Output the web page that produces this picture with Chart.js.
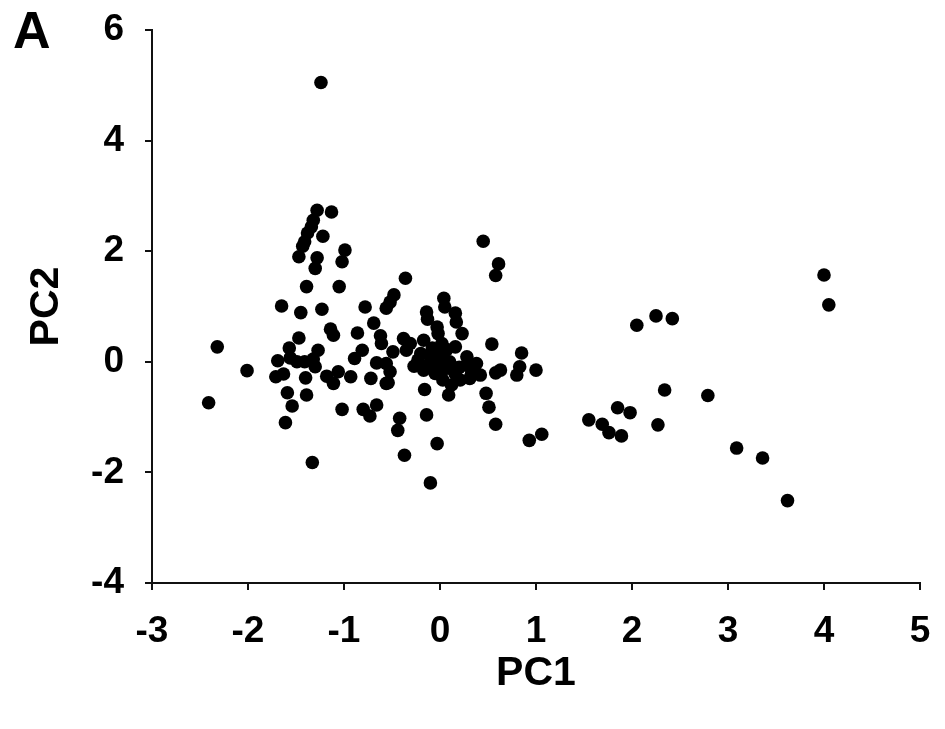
<!DOCTYPE html>
<html lang="en">

<head>
    <meta charset="UTF-8">
    <title>PCA</title>
    <style>
        body { margin: 0; background: #fff; }
        .painel { position: relative; width: 945px; height: 729px; }
        .letra {
            position: absolute; left: 13px; top: 4px;
            font: bold 52px "Liberation Sans", Arial, sans-serif; line-height: 1;
        }
    </style>
</head>

<body>
    <div class="painel">
        <canvas id="myChart" width="945" height="729"></canvas>
        <div class="letra">A</div>
    </div>
</body>

</html>
<script src="https://cdn.jsdelivr.net/npm/chart.js@4/dist/chart.umd.min.js"></script>

<script>

    // valores (PC1, PC2)
    const pc1 = [
        -1.24, -1.28, -1.13, -1.32, -1.34, -1.38, -1.22, -1.41, -1.43, -1.47,
        -1.28, -0.99, -1.02, -1.30, -1.39, -1.05, -1.65, -1.45, -1.23, -0.78,
        -0.56, -0.69, -1.14, -1.11, -0.86, -0.62, -1.47, -2.32, -2.01, -2.41,
        -1.57, -1.69, -1.56, -1.49, -1.41, -1.27, -1.30, -1.71, -1.63, -1.40,
        -1.59, -1.54, -1.39, -1.61, -1.33, -1.18, -1.06, -1.11, -0.93, -0.72,
        -0.89, -0.81, -0.66, -0.56, -0.56, -1.02, -0.80, -0.73, -0.66, -0.61,
        0.45, 0.61, 0.58, -0.36, -0.48, -0.52, 0.04, 0.05, -0.14, -0.13,
        0.16, 0.17, 0.23, -0.03, -0.02, -0.38, 0.54, 0.85, -0.49, -0.52,
        -0.54, -0.31, -0.17, 0.02, 0.16, -0.23, -0.10, -0.03, 0.03, 0.10,
        -0.17, -0.05, 0.03, 0.12, 0.09, 0.21, 0.28, 0.38, 0.42, 0.31,
        0.28, 0.63, 0.58, 0.83, 0.80, 1.00, 0.48, 0.51, 0.58, -0.16,
        -0.42, -0.44, -0.14, -0.03, -0.37, -0.10, 0.93, 1.06, -0.35, 0.14,
        0.33, -1.32, -0.27, -0.12, 0.00, -0.08, 0.06, 0.16, -0.20, 0.20,
        0.07,
        2.05, 2.25, 2.42, 4.05, 4.00, 2.34, 2.79, 1.55, 1.85, 1.98,
        1.69, 1.76, 1.89, 2.27, 3.09, 3.36, 3.62
    ];
    const pc2 = [
        5.05, 2.74, 2.71, 2.56, 2.44, 2.33, 2.27, 2.17, 2.09, 1.90,
        1.88, 2.02, 1.81, 1.69, 1.36, 1.36, 1.01, 0.89, 0.95, 0.99,
        0.97, 0.70, 0.59, 0.48, 0.52, 0.47, 0.43, 0.27, -0.16, -0.74,
        0.25, 0.02, 0.07, 0.00, 0.00, 0.21, -0.09, -0.27, -0.22, -0.29,
        -0.56, -0.80, -0.60, -1.10, -1.82, -0.26, -0.18, -0.39, -0.27, -0.30,
        0.06, 0.21, -0.02, -0.03, -0.39, -0.86, -0.86, -0.98, -0.78, 0.33,
        2.18, 1.77, 1.56, 1.51, 1.21, 1.08, 1.15, 0.99, 0.90, 0.77,
        0.88, 0.72, 0.51, 0.63, 0.51, 0.42, 0.32, 0.16, 0.18, -0.18,
        -0.38, 0.33, 0.39, 0.33, 0.27, 0.03, 0.09, -0.03, 0.09, 0.00,
        -0.15, -0.21, -0.33, -0.42, -0.60, -0.33, 0.09, -0.03, -0.24, -0.30,
        -0.06, -0.15, -0.20, -0.09, -0.24, -0.15, -0.57, -0.82, -1.13, -0.50,
        -1.02, -1.24, -0.96, -1.48, -1.69, -2.19, -1.42, -1.31, 0.21, -0.15,
        -0.21, 0.05, -0.08, -0.05, 0.20, 0.25, -0.12, -0.22, 0.15, -0.10,
        0.22,
        0.66, 0.83, 0.78, 1.03, 1.57, -0.51, -0.61, -1.05, -0.83, -0.92,
        -1.13, -1.28, -1.34, -1.14, -1.56, -1.74, -2.51
    ];

    const limitesX = [-3, 5];
    const limitesY = [-4, 6];
    const tituloX = 'PC1';
    const tituloY = 'PC2';

    const fonte = '"Liberation Sans", Arial, sans-serif';

    let pontos = [];
    for (let i = 0; i < pc1.length; i++) {
        pontos.push({ x: pc1[i], y: pc2[i] });
    }

    const ctx = document.getElementById('myChart');

    new Chart(ctx, {
        type: 'scatter',
        data: {
            datasets: [{
                data: pontos,
                backgroundColor: '#000',
                borderWidth: 0,
                pointRadius: 6.8,
                pointHoverRadius: 6.8
            }]
        },
        options: {
            responsive: false,
            animation: false,
            layout: { padding: { top: 30, right: 25, left: 0, bottom: 0 } },
            plugins: { legend: { display: false }, tooltip: { enabled: false } },
            scales: {
                x: {
                    min: limitesX[0],
                    max: limitesX[1],
                    afterFit: function (escala) {
                        escala.height = 146;
                        escala.paddingLeft = 0;
                        escala.paddingRight = 0;
                    },
                    border: { display: true, color: '#111', width: 2 },
                    grid: { drawOnChartArea: false, drawTicks: true, tickLength: 7, color: '#111', lineWidth: 2 },
                    ticks: {
                        stepSize: 1, padding: 20, color: '#000',
                        font: { family: fonte, size: 37, weight: 'bold' }
                    },
                    title: {
                        display: true, text: tituloX, color: '#000',
                        font: { family: fonte, size: 41, weight: 'bold', lineHeight: 1 },
                        padding: { top: 0, bottom: 35 }
                    }
                },
                y: {
                    min: limitesY[0],
                    max: limitesY[1],
                    afterFit: function (escala) {
                        escala.width = 152;
                        escala.paddingTop = 0;
                        escala.paddingBottom = 0;
                    },
                    border: { display: true, color: '#111', width: 2 },
                    grid: { drawOnChartArea: false, drawTicks: true, tickLength: 7, color: '#111', lineWidth: 2 },
                    ticks: {
                        stepSize: 2, padding: 21, color: '#000',
                        font: { family: fonte, size: 37, weight: 'bold' }
                    },
                    title: {
                        display: true, text: tituloY, color: '#000',
                        font: { family: fonte, size: 41, weight: 'bold', lineHeight: 1 },
                        padding: { top: 26, bottom: 0 }
                    }
                }
            }
        }
    });

</script>
